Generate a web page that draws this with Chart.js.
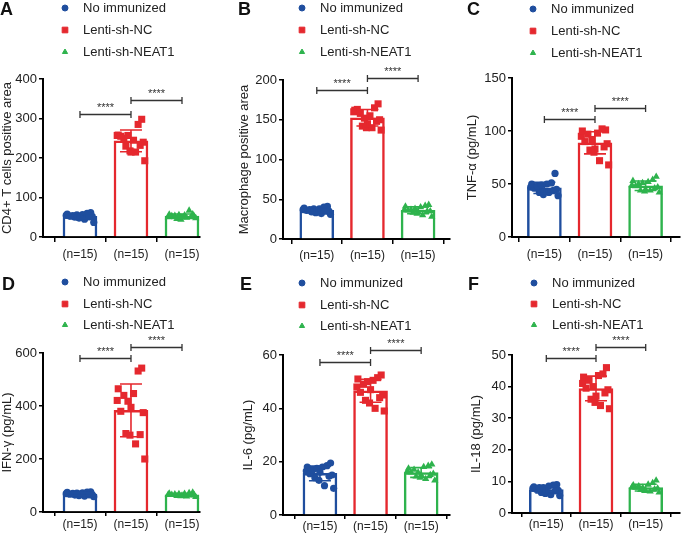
<!DOCTYPE html>
<html>
<head>
<meta charset="utf-8">
<script src="https://cdn.jsdelivr.net/npm/chart.js@4.4.0/dist/chart.umd.min.js"></script>
<style>
  html, body { margin: 0; padding: 0; background: #fff; }
  #fig { position: relative; width: 685px; height: 534px; overflow: hidden; background: #fff; }
  #fig canvas { position: absolute; }
</style>
</head>
<body>
<div id="fig"></div>
<script>
'use strict';

const GROUPS = ['No immunized', 'Lenti-sh-NC', 'Lenti-sh-NEAT1'];
const X_LABEL = '(n=15)';
const COLORS = ['#1f4e9e', '#e5282e', '#2eb34d'];
const SHAPES = ['circle', 'rect', 'triangle'];

// A - CD4+ T cells
const cd4None = [55, 62, 50, 57, 37, 53, 60, 48, 52, 58, 45, 54, 51, 56, 49];
const cd4NC   = [257, 298, 230, 245, 193, 255, 285, 218, 240, 258, 215, 250, 232, 257, 215];
const cd4Sh   = [50, 58, 46, 55, 48, 53, 67, 44, 52, 57, 49, 54, 51, 56, 50];
// B - Macrophage
const macNone = [37, 41, 34, 38, 31, 36, 40, 33, 35, 39, 32, 37, 35, 38, 34];
const macNC   = [160, 170, 142, 155, 137, 163, 165, 140, 150, 162, 140, 158, 148, 152, 145];
const macSh   = [37, 43, 33, 40, 28, 36, 42, 32, 35, 41, 30, 37, 35, 38, 34];
// C - TNF-a
const tnfNone = [47, 60, 42, 50, 39, 46, 51, 40, 45, 50, 42, 48, 44, 49, 43];
const tnfNC   = [95, 101, 82, 98, 68, 90, 102, 80, 88, 100, 72, 97, 85, 92, 83];
const tnfSh   = [49, 57, 44, 52, 42, 48, 54, 43, 47, 53, 44, 50, 46, 51, 45];
// D - IFN-g
const ifnNone = [69, 76, 64, 72, 58, 67, 75, 62, 66, 74, 60, 70, 65, 71, 68];
const ifnNC   = [421, 543, 296, 447, 200, 380, 532, 290, 375, 465, 257, 440, 292, 418, 395];
const ifnSh   = [66, 74, 61, 69, 57, 65, 72, 60, 64, 70, 59, 67, 63, 68, 62];
// E - IL-6
const il6None = [16.5, 19.5, 14, 18, 10, 15.5, 18.5, 13, 15, 18, 11, 17, 14.5, 17.5, 16];
const il6NC   = [48, 52.5, 43, 50.5, 39, 46, 51.5, 42, 45, 51, 40, 49, 44, 50, 47];
const il6Sh   = [16.5, 19, 14.5, 18, 13, 16, 18.5, 14, 15.5, 17.5, 13.5, 17, 15, 16, 15];
// F - IL-18
const il18None = [7.8, 9, 6.5, 8.5, 5.5, 7.5, 8.8, 6.2, 7.2, 8.3, 5.8, 8, 7, 8, 7];
const il18NC   = [41, 46, 36, 43.5, 33, 39.5, 44, 35, 39, 43, 34, 42, 38, 40, 37];
const il18Sh   = [8.3, 10.3, 7.3, 9, 6.5, 8, 9.5, 7, 7.8, 8.8, 6.8, 8.5, 7.5, 8, 7];

// significance bracket heights (None-NC, NC-NEAT1)
const cd4Sig  = [312, 347];
const macSig  = [188, 203];
const tnfSig  = [111.5, 122];
const ifnSig  = [583, 622];
const il6Sig  = [57.3, 61.9];
const il18Sig = [49.2, 52.6];

// horizontal scatter spread of the dots inside a bar
const JITTER = [-0.27, 0.21, -0.1, 0.05, 0.27, -0.2, 0.14, -0.02, 0.24, -0.25, 0.09, -0.14, 0.18, -0.06, 0.0];

const FONT = '"Liberation Sans", Arial, sans-serif';

const panels = [
  { letter: 'A', title: 'CD4+ T cells positive area', groups: [cd4None, cd4NC, cd4Sh], sig: cd4Sig,
    yMax: 400, step: 100, box: [0, 0, 228, 268], left: 43, right: 200, top: 79, bottom: 237,
    xMin: -0.725, xMax: 2.353, titlePad: 0, xPad: 5, xTick: 5, letterX: 0, letterY: 15,
    legX: 65, legY: [8, 30, 52] },
  { letter: 'B', title: 'Macrophage positive area', groups: [macNone, macNC, macSh], sig: macSig,
    yMax: 200, step: 50, box: [228, 0, 227, 268], left: 55, right: 223, top: 80, bottom: 239,
    xMin: -0.667, xMax: 2.63, titlePad: 9, xPad: 4, xTick: 5, letterX: 10, letterY: 15,
    legX: 74, legY: [8, 30, 52] },
  { letter: 'C', title: 'TNF-α (pg/mL)', groups: [tnfNone, tnfNC, tnfSh], sig: tnfSig,
    yMax: 150, step: 50, box: [455, 0, 230, 268], left: 57, right: 228, top: 78, bottom: 237,
    xMin: -0.64, xMax: 2.68, titlePad: 10, xPad: 5, xTick: 5, letterX: 12, letterY: 15,
    legX: 78, legY: [9, 31, 53] },
  { letter: 'D', title: 'IFN-γ (pg/mL)', groups: [ifnNone, ifnNC, ifnSh], sig: ifnSig,
    yMax: 600, step: 200, box: [0, 268, 228, 266], left: 43, right: 200, top: 85, bottom: 244,
    xMin: -0.725, xMax: 2.353, titlePad: 0, xPad: 1, xTick: 4, letterX: 2, letterY: 22,
    legX: 65, legY: [14, 36, 57] },
  { letter: 'E', title: 'IL-6 (pg/mL)', groups: [il6None, il6NC, il6Sh], sig: il6Sig,
    yMax: 60, step: 20, box: [228, 268, 227, 266], left: 55, right: 222, top: 87, bottom: 247,
    xMin: -0.73, xMax: 2.57, titlePad: 13, xPad: 0, xTick: 4, letterX: 12, letterY: 22,
    legX: 74, legY: [15, 37, 58] },
  { letter: 'F', title: 'IL-18 (pg/mL)', groups: [il18None, il18NC, il18Sh], sig: il18Sig,
    yMax: 50, step: 10, box: [455, 268, 230, 266], left: 57, right: 228, top: 87, bottom: 245,
    xMin: -0.69, xMax: 2.69, titlePad: 14, xPad: 0, xTick: 4, letterX: 13, letterY: 22,
    legX: 79, legY: [15, 36, 57] }
];

const mean = a => a.reduce((s, v) => s + v, 0) / a.length;
const sd = a => { const m = mean(a); return Math.sqrt(a.reduce((s, v) => s + (v - m) * (v - m), 0) / (a.length - 1)); };

function panelPlugin(p) {
  return {
    id: 'panel' + p.letter,
    afterDatasetsDraw(chart) {
      const { ctx, scales: { x, y } } = chart;
      ctx.save();
      // mean +/- SD
      p.groups.forEach((vals, i) => {
        const m = mean(vals), s = sd(vals);
        const cx = x.getPixelForValue(i);
        const yt = y.getPixelForValue(m + s), yb = y.getPixelForValue(m - s);
        ctx.strokeStyle = COLORS[i];
        ctx.lineWidth = 1.6;
        ctx.beginPath();
        ctx.moveTo(cx, yt); ctx.lineTo(cx, yb);
        ctx.moveTo(cx - 11, yt); ctx.lineTo(cx + 11, yt);
        ctx.moveTo(cx - 11, yb); ctx.lineTo(cx + 11, yb);
        ctx.stroke();
      });
      // brackets
      p.sig.forEach((h, k) => {
        const x1 = x.getPixelForValue(k), x2 = x.getPixelForValue(k + 1);
        const yy = Math.round(y.getPixelForValue(h)) + 0.5;
        ctx.strokeStyle = '#333';
        ctx.lineWidth = 1.3;
        ctx.beginPath();
        ctx.moveTo(x1, yy); ctx.lineTo(x2, yy);
        ctx.moveTo(x1, yy - 3.5); ctx.lineTo(x1, yy + 3.5);
        ctx.moveTo(x2, yy - 3.5); ctx.lineTo(x2, yy + 3.5);
        ctx.stroke();
        ctx.fillStyle = '#333';
        ctx.font = '11px ' + FONT;
        ctx.textAlign = 'center';
        ctx.textBaseline = 'bottom';
        ctx.fillText('****', (x1 + x2) / 2, yy - 1);
      });
      ctx.restore();
    },
    afterDraw(chart) {
      const ctx = chart.ctx;
      ctx.save();
      ctx.fillStyle = '#111';
      ctx.font = 'bold 18px ' + FONT;
      ctx.textAlign = 'left';
      ctx.textBaseline = 'alphabetic';
      ctx.fillText(p.letter, p.letterX, p.letterY);
      GROUPS.forEach((g, i) => {
        const yy = p.legY[i];
        ctx.fillStyle = COLORS[i];
        ctx.strokeStyle = COLORS[i];
        ctx.lineWidth = 1;
        Chart.helpers.drawPoint(ctx, { pointStyle: SHAPES[i], rotation: 0, radius: i === 1 ? 4 : 3, borderWidth: 1 }, p.legX, yy);
        ctx.fillStyle = '#222';
        ctx.font = '13px ' + FONT;
        ctx.textBaseline = 'middle';
        ctx.fillText(g, p.legX + 18, yy);
      });
      ctx.restore();
    }
  };
}

const fig = document.getElementById('fig');

panels.forEach(p => {
  const [bx, by, bw, bh] = p.box;
  const cv = document.createElement('canvas');
  cv.width = bw; cv.height = bh;
  cv.style.left = bx + 'px'; cv.style.top = by + 'px';
  cv.style.width = bw + 'px'; cv.style.height = bh + 'px';
  fig.appendChild(cv);

  const datasets = [{
    type: 'bar',
    data: p.groups.map((g, i) => ({ x: i, y: mean(g) })),
    backgroundColor: '#fff',
    borderColor: COLORS,
    borderWidth: 2.5,
    barThickness: 34,
    grouped: false,
    order: 2
  }];
  p.groups.forEach((g, i) => {
    datasets.push({
      type: 'scatter',
      data: g.map((v, j) => ({ x: i + JITTER[j], y: v })),
      pointStyle: SHAPES[i],
      radius: i === 1 ? 5 : (i === 2 ? 4.2 : 3.6),
      backgroundColor: COLORS[i],
      borderColor: COLORS[i],
      borderWidth: 0,
      order: 1
    });
  });

  new Chart(cv, {
    type: 'bar',
    data: { datasets },
    options: {
      responsive: false,
      animation: false,
      devicePixelRatio: 1,
      layout: { padding: { left: 0, top: p.top, right: bw - p.right, bottom: 0 } },
      plugins: { legend: { display: false }, tooltip: { enabled: false } },
      scales: {
        x: {
          type: 'linear',
          min: p.xMin, max: p.xMax,
          offset: false,
          afterBuildTicks: s => { s.ticks = [0, 1, 2].map(v => ({ value: v })); },
          afterFit: s => { s.height = bh - p.bottom; },
          ticks: {
            callback: () => X_LABEL,
            autoSkip: false, maxRotation: 0,
            padding: p.xPad,
            color: '#222',
            font: { family: FONT, size: 12 }
          },
          grid: { display: true, drawOnChartArea: false, drawTicks: true, tickLength: p.xTick, color: '#000', lineWidth: 1.5 },
          border: { display: true, color: '#000', width: 2 }
        },
        y: {
          min: 0, max: p.yMax,
          afterFit: s => { s.width = p.left; },
          ticks: { stepSize: p.step, padding: 2, color: '#222', font: { family: FONT, size: 13 } },
          grid: { display: true, drawOnChartArea: false, drawTicks: true, tickLength: 4, color: '#000', lineWidth: 1.5 },
          border: { display: true, color: '#000', width: 2 },
          title: {
            display: true, text: p.title, color: '#222',
            font: { family: FONT, size: 13 },
            padding: { top: p.titlePad, bottom: 0 }
          }
        }
      }
    },
    plugins: [panelPlugin(p)]
  });
});
</script>
</body>
</html>
